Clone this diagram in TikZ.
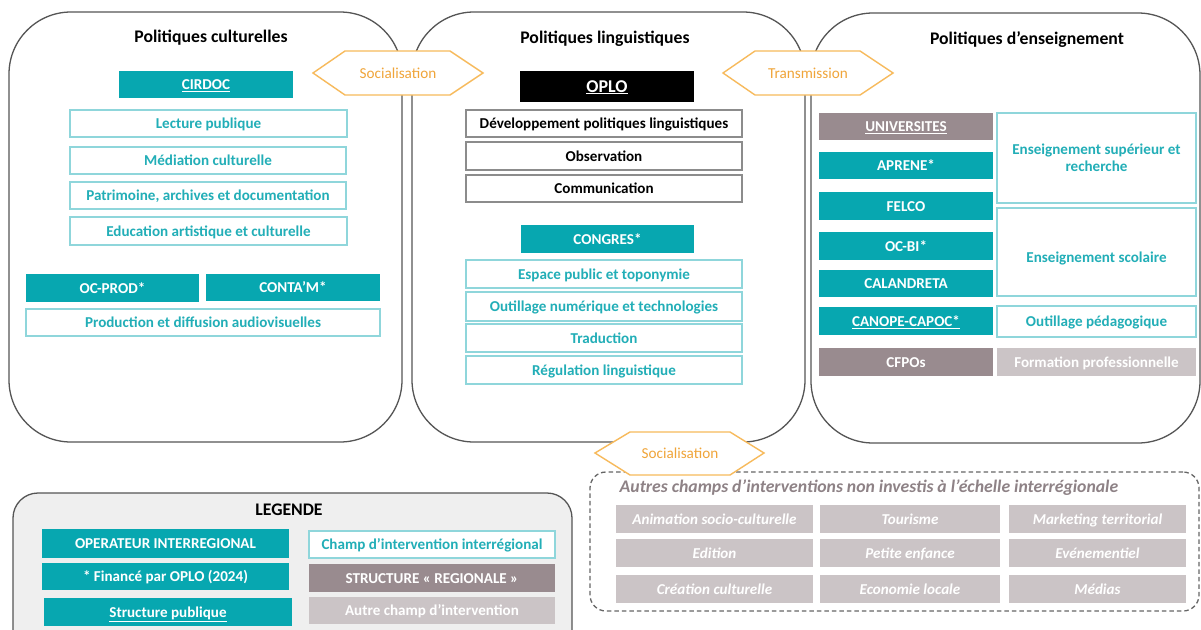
\documentclass[tikz,border=0pt]{standalone}
\usepackage{fontspec}
\setmainfont{Carlito}
\definecolor{tealop}{HTML}{07A7B0}
\definecolor{tealline}{HTML}{8FD6DB}
\definecolor{tealtext}{HTML}{22AEB7}
\definecolor{mauve}{HTML}{998B8F}
\definecolor{lightmauve}{HTML}{CBC4C6}
\definecolor{panelline}{HTML}{555555}
\definecolor{boxline}{HTML}{8C8C8C}
\definecolor{orangeline}{HTML}{F7BA5C}
\definecolor{orangetext}{HTML}{F0A53A}
\definecolor{dashtitle}{HTML}{8E8286}
\definecolor{legendfill}{HTML}{EFEFEF}
\newcommand\bodyfont{\fontsize{15.1}{17.5}\selectfont\bfseries}
% box from its corners: name, style, x1, y1, x2, y2, text
\newcommand\boxat[7]{\node[#2, minimum width={#5-#3}, minimum height={#6-#4}] (#1) at ({(#3+#5)/2},{(#4+#6)/2}) {#7};}
\tikzset{
  base/.style={inner sep=0pt, outer sep=0pt, align=center, font=\bodyfont, text height=12pt, text depth=1.5pt},
  opbox/.style={base, fill=tealop, text=white},
  fieldbox/.style={base, draw=tealline, line width=1.3pt, fill=white, text=tealtext},
  plainbox/.style={base, draw=boxline, line width=1.3pt, fill=white, text=black},
  regbox/.style={base, fill=mauve, text=white},
  otherbox/.style={base, fill=lightmauve, text=white},
  otheritalic/.style={otherbox, font=\bodyfont\itshape},
  panel/.style={inner sep=0pt, draw=panelline, line width=1.3pt, rounded corners=62pt, fill=white},
  paneltitle/.style={font=\fontsize{17.7}{20}\selectfont\bfseries, text=black},
  hexline/.style={draw=orangeline, line width=1.4pt, fill=white, line join=miter},
  hextext/.style={text=orangetext, font=\fontsize{15.2}{17.5}\selectfont},
}
\begin{document}
\begin{tikzpicture}[x=1pt,y=-1pt]
\useasboundingbox (0,0) rectangle (1201,629);
\fill[white] (0,0) rectangle (1201,629);
\begin{scope}
\clip (0,0) rectangle (1201,629);

% the three policy panels
\boxat{pcult}{panel}{9}{12}{402}{442}{}
\boxat{pling}{panel}{412}{12}{805}{442}{}
\boxat{pens}{panel}{811}{13}{1200}{443}{}
\node[paneltitle] (tcult) at (211,38) {Politiques culturelles};
\node[paneltitle] (tling) at (605,39) {Politiques linguistiques};
\node[paneltitle] (tens) at (1027,40) {Politiques d’enseignement};

% cultural policies
\boxat{cirdoc}{opbox}{119}{71}{293}{98}{\underline{CIRDOC}}
\boxat{lecture}{fieldbox}{70}{110}{347}{137}{Lecture publique}
\boxat{mediation}{fieldbox}{70}{147}{346}{174}{Médiation culturelle}
\boxat{patrimoine}{fieldbox}{70}{182}{346}{209}{Patrimoine, archives et documentation}
\boxat{education}{fieldbox}{70}{217}{347}{245}{Education artistique et culturelle}
\boxat{ocprod}{opbox}{26}{274}{199}{302}{OC-PROD*}
\boxat{contam}{opbox}{206}{274}{380}{301}{CONTA’M*}
\boxat{prod}{fieldbox}{26}{309}{380}{336}{Production et diffusion audiovisuelles}

% language policies
\boxat{oplo}{base, fill=black, text=white, font=\fontsize{18}{20}\selectfont\bfseries, text height=13pt, text depth=2pt}{520}{71}{694}{102}{\underline{OPLO}}
\boxat{dev}{plainbox}{466}{110}{742}{137}{Développement politiques linguistiques}
\boxat{obs}{plainbox}{466}{142}{742}{170}{Observation}
\boxat{comm}{plainbox}{466}{175}{742}{202}{Communication}
\boxat{congres}{opbox}{521}{225}{694}{253}{CONGRES*}
\boxat{espace}{fieldbox}{466}{260}{742}{288}{Espace public et toponymie}
\boxat{outnum}{fieldbox}{466}{292}{742}{321}{Outillage numérique et technologies}
\boxat{trad}{fieldbox}{466}{324}{742}{352}{Traduction}
\boxat{regul}{fieldbox}{466}{356}{742}{384}{Régulation linguistique}

% teaching policies
\boxat{univ}{regbox}{819}{113}{993}{140}{\underline{UNIVERSITES}}
\boxat{aprene}{opbox}{819}{152}{993}{179}{APRENE*}
\boxat{felco}{opbox}{819}{192}{993}{220}{FELCO}
\boxat{ocbi}{opbox}{819}{232}{993}{260}{OC-BI*}
\boxat{calandreta}{opbox}{819}{270}{993}{297}{CALANDRETA}
\boxat{canope}{opbox}{819}{307}{993}{335}{\underline{CANOPE-CAPOC*}}
\boxat{cfpo}{regbox}{819}{348}{993}{376}{CFPOs}
\boxat{sup}{fieldbox, text height=, text depth=}{997}{113}{1196}{203}{Enseignement supérieur et\\recherche}
\boxat{scol}{fieldbox, text height=24pt, text depth=4pt}{997}{208}{1196}{296}{Enseignement scolaire}
\boxat{outped}{fieldbox}{997}{306}{1196}{337}{Outillage pédagogique}
\boxat{formpro}{otherbox}{997}{348}{1196}{376}{Formation professionnelle}

% legend
\boxat{legend}{inner sep=0pt, draw=panelline, line width=1.3pt, rounded corners=25pt, fill=legendfill}{13}{493}{572}{680}{}
\node[paneltitle] (tlegend) at (289,510) {LEGENDE};
\boxat{operateur}{opbox}{42}{529}{289}{558}{OPERATEUR INTERREGIONAL}
\boxat{finance}{opbox}{42}{563}{289}{590}{* Financé par OPLO (2024)}
\boxat{structpub}{opbox}{44}{598}{292}{626}{\underline{Structure publique}}
\boxat{champ}{fieldbox}{309}{531}{555}{558}{Champ d’intervention interrégional}
\boxat{structreg}{regbox}{309}{564}{555}{592}{STRUCTURE « REGIONALE »}
\boxat{autre}{otherbox}{309}{597}{555}{624}{Autre champ d’intervention}

% fields not covered at interregional scale
\boxat{others}{inner sep=0pt, draw=panelline!90, line width=1.3pt, dash pattern=on 4.5pt off 3pt, rounded corners=16pt}{590}{472}{1199}{611}{}
\node[font=\fontsize{17.7}{20}\selectfont\bfseries\itshape, text=dashtitle] (tothers) at (869,488) {Autres champs d’interventions non investis à l’échelle interrégionale};
\boxat{animation}{otheritalic}{616}{505}{813}{533}{Animation socio-culturelle}
\boxat{tourisme}{otheritalic}{820}{505}{1000}{533}{Tourisme}
\boxat{marketing}{otheritalic}{1009}{505}{1186}{533}{Marketing territorial}
\boxat{edition}{otheritalic}{616}{539}{813}{567}{Edition}
\boxat{enfance}{otheritalic}{820}{539}{1000}{567}{Petite enfance}
\boxat{evenement}{otheritalic}{1009}{539}{1186}{567}{Evénementiel}
\boxat{creation}{otheritalic}{616}{575}{813}{603}{Création culturelle}
\boxat{economie}{otheritalic}{820}{575}{1000}{603}{Economie locale}
\boxat{medias}{otheritalic}{1009}{575}{1186}{603}{Médias}

% exchange hexagons between the fields
\draw[hexline] (313,73) -- (345,51) -- (450,51) -- (483,73) -- (450,95) -- (345,95) -- cycle;
\node[hextext] (hsoc) at (398,73) {Socialisation};
\draw[hexline] (723,73) -- (755,51) -- (860,51) -- (893,73) -- (860,95) -- (755,95) -- cycle;
\node[hextext] (htrans) at (808,73) {Transmission};
\draw[hexline] (595,453) -- (630,432) -- (730,432) -- (764,453) -- (730,475) -- (630,475) -- cycle;
\node[hextext] (hsocb) at (680,453) {Socialisation};
\end{scope}
\end{tikzpicture}
\end{document}
